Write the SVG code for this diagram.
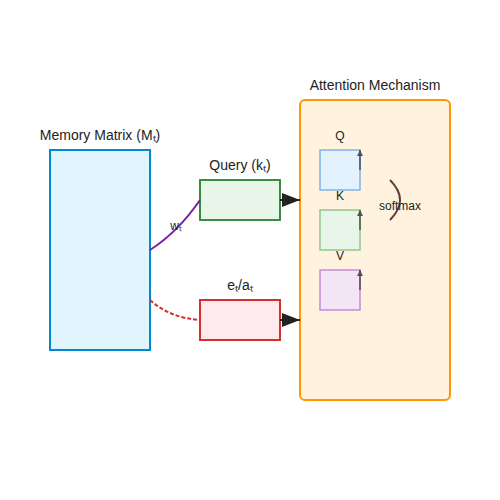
<svg xmlns="http://www.w3.org/2000/svg" width="500" height="500" viewBox="0 0 500 500">
<style>
text{font-family:"Liberation Sans",Arial,sans-serif;fill:#222;text-anchor:middle}
.lbl{font-size:14px}
.sm{font-size:12px}
.box{stroke-width:2}
.mini{stroke:#333;stroke-width:1.5;opacity:0.8}
</style>
<defs>
<marker id="big" viewBox="0 0 10 10" refX="10" refY="5" markerWidth="9" markerHeight="7" markerUnits="strokeWidth" orient="auto" preserveAspectRatio="none">
<path d="M0,0 L10,5 L0,10 z" fill="#222"/>
</marker>
<marker id="small" viewBox="0 0 10 10" refX="10" refY="5" markerWidth="4" markerHeight="4" markerUnits="strokeWidth" orient="auto">
<path d="M0,0 L10,5 L0,10 z" fill="#333"/>
</marker>
</defs>
<rect width="500" height="500" fill="#fff"/>
<g id="memory">
<rect class="box" x="50" y="150" width="100" height="200" fill="#e1f5fe" stroke="#0288d1"/>
<text class="lbl" x="100" y="140">Memory Matrix (Mₜ)</text>
</g>
<g id="query">
<rect class="box" x="200" y="180" width="80" height="40" fill="#e8f5e9" stroke="#388e3c"/>
<text class="lbl" x="240" y="170">Query (kₜ)</text>
</g>
<g id="erase-add">
<rect class="box" x="200" y="300" width="80" height="40" fill="#ffebee" stroke="#d32f2f"/>
<text class="lbl" x="240" y="290">eₜ/aₜ</text>
</g>
<g id="attention">
<rect class="box" x="300" y="100" width="150" height="300" rx="5" fill="#fff3e0" stroke="#ff9800"/>
<text class="lbl" x="375" y="90">Attention Mechanism</text>
</g>
<g id="q">
<rect x="320" y="150" width="40" height="40" fill="#e3f2fd" stroke="#7fb3e6" stroke-width="1.5"/>
<text class="sm" x="340" y="140">Q</text>
</g>
<g id="k">
<rect x="320" y="210" width="40" height="40" fill="#e8f5e9" stroke="#93c593" stroke-width="1.5"/>
<text class="sm" x="340" y="200">K</text>
</g>
<g id="v">
<rect x="320" y="270" width="40" height="40" fill="#f3e5f5" stroke="#c58bd6" stroke-width="1.5"/>
<text class="sm" x="340" y="260">V</text>
</g>
<g id="softmax">
<path d="M390,180 Q410,200 390,220" fill="none" stroke="#5d4037" stroke-width="2"/>
<text class="sm" x="400" y="210">softmax</text>
</g>
<g id="connectors">
<path d="M150,250 Q178,232 200,200" fill="none" stroke="#7b1fa2" stroke-width="2"/>
<text class="sm" x="176" y="230">wₜ</text>
<path d="M150,300 Q170,318 200,320" fill="none" stroke="#d32f2f" stroke-width="2" stroke-dasharray="4,2"/>
<line x1="280" y1="200" x2="300" y2="200" stroke="#222" stroke-width="2" marker-end="url(#big)"/>
<line x1="280" y1="320" x2="300" y2="320" stroke="#222" stroke-width="2" marker-end="url(#big)"/>
<line class="mini" x1="360" y1="170" x2="360" y2="150" marker-end="url(#small)"/>
<line class="mini" x1="360" y1="230" x2="360" y2="210" marker-end="url(#small)"/>
<line class="mini" x1="360" y1="290" x2="360" y2="270" marker-end="url(#small)"/>
</g>
</svg>
